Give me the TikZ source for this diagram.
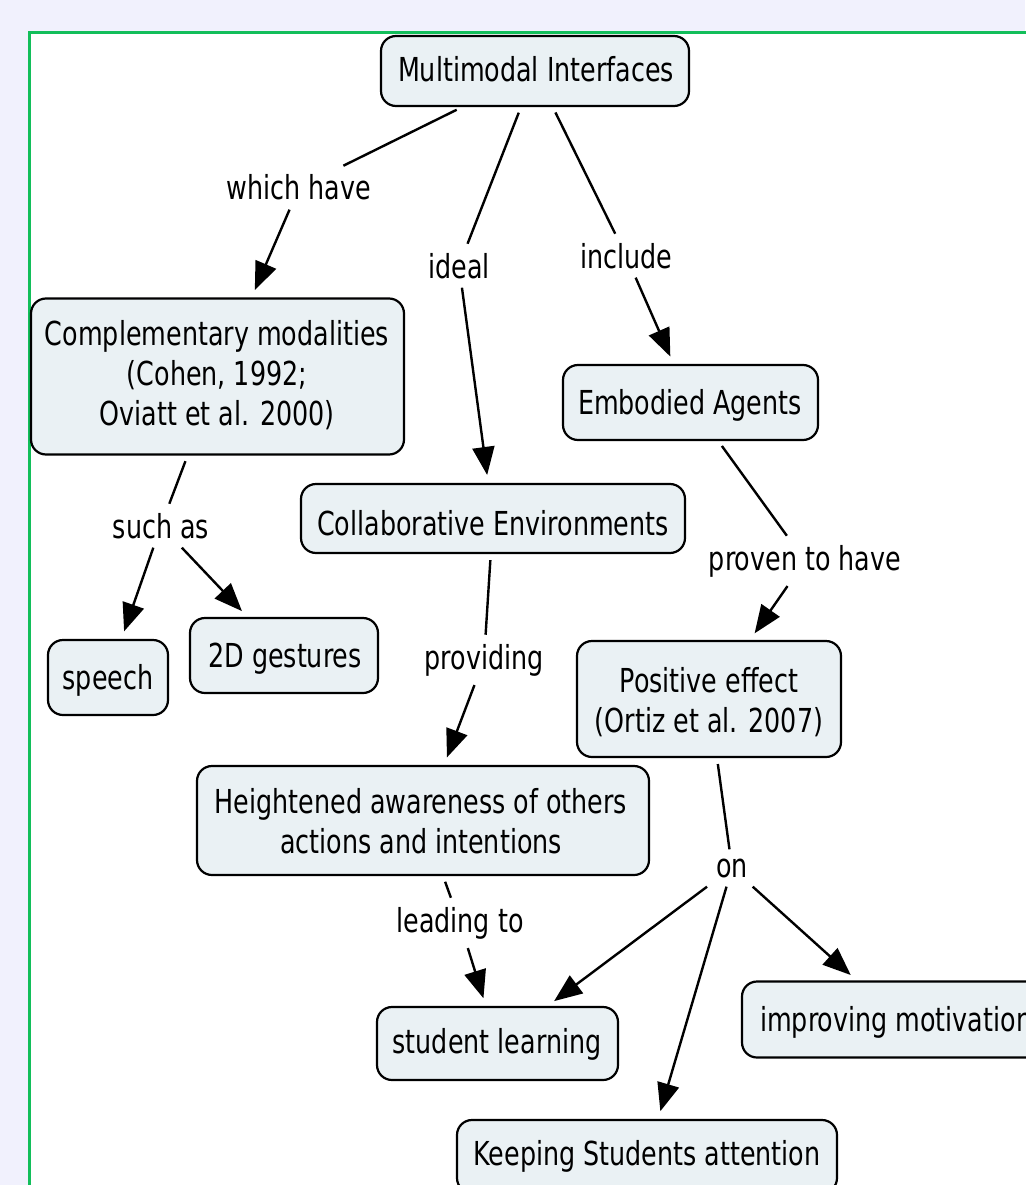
\documentclass[tikz,border=0pt]{standalone}
\usepackage{fontspec}
\setmainfont{DejaVu Sans Condensed}[FakeStretch=0.855]
\usetikzlibrary{arrows.meta}
\definecolor{bgcol}{RGB}{241,241,253}
\definecolor{framecol}{RGB}{18,190,90}
\definecolor{boxfill}{RGB}{234,241,244}
\tikzset{
  concept/.style={draw=black, line width=2.2pt, fill=boxfill, rounded corners=15pt, inner sep=0pt},
  txt/.style={inner sep=0pt, font=\fontsize{33}{40}\selectfont, align=center},
  lbl/.style={inner sep=9pt, font=\fontsize{33}{40}\selectfont},
  link/.style={line width=2.4pt, shorten <=6pt},
  arr/.style={line width=2.4pt, shorten >=8pt, -{Triangle[length=28pt,width=22pt]}},
}
\begin{document}
\begin{tikzpicture}[x=1pt,y=-1pt]
\fill[bgcol] (0,0) rectangle (1025,1185);
\useasboundingbox (0,0) rectangle (1025,1185);
\fill[white] (29,33) rectangle (1030,1190);
\draw[framecol, line width=3pt] (29,1190) -- (29,33) -- (1030,33);

% concept boxes
\node[concept, minimum width=308pt, minimum height=70pt] (mi) at (535,71) {};
\node[concept, minimum width=373pt, minimum height=156pt] (cm) at (217.5,376.5) {};
\node[concept, minimum width=255pt, minimum height=75pt] (ea) at (690.5,402.5) {};
\node[concept, minimum width=384pt, minimum height=69pt] (ce) at (493,518.5) {};
\node[concept, minimum width=120pt, minimum height=75pt] (sp) at (108,677.5) {};
\node[concept, minimum width=188pt, minimum height=75pt] (gs) at (284,655.5) {};
\node[concept, minimum width=264pt, minimum height=116pt] (pe) at (709,699) {};
\node[concept, minimum width=452pt, minimum height=109pt] (ha) at (423,820.5) {};
\node[concept, minimum width=241pt, minimum height=73pt] (sl) at (497.5,1043.5) {};
\node[concept, minimum width=316pt, minimum height=76pt] (im) at (900,1019.5) {};
\node[concept, minimum width=380pt, minimum height=73pt] (ks) at (647,1156.5) {};

% concept texts
\node[txt, anchor=base] (mit) at (536,82) {Multimodal Interfaces};
\node[txt, anchor=north] (cmt) at (217,320) {Complementary modalities\\(Cohen, 1992;\\Oviatt et al. 2000)};
\node[txt, anchor=base] (eat) at (690,414) {Embodied Agents};
\node[txt, anchor=base] (cet) at (493,535) {Collaborative Environments};
\node[txt, anchor=base] (spt) at (108,689) {speech};
\node[txt, anchor=base] (gst) at (285,667) {2D gestures};
\node[txt, anchor=north] (pet) at (709,667) {Positive effect\\(Ortiz et al. 2007)};
\node[txt, anchor=north] (hat) at (421,788) {Heightened awareness of others\\actions and intentions};
\node[txt, anchor=base] (slt) at (497,1053) {student learning};
\node[txt, anchor=base west] (imt) at (760,1031) {improving motivation};
\node[txt, anchor=base] (kst) at (647,1165) {Keeping Students attention};

% linking phrases
\node[lbl, anchor=base] (lwh) at (299,200) {which have};
\node[lbl, anchor=base] (lid) at (459,278) {ideal};
\node[lbl, anchor=base] (lin) at (626,268) {include};
\node[lbl, anchor=base] (lsa) at (161,538) {such as};
\node[lbl, anchor=base] (lpr) at (805,570) {proven to have};
\node[lbl, anchor=base] (lpv) at (484,669) {providing};
\node[lbl, anchor=base] (llt) at (460,932) {leading to};
\node[lbl, anchor=base] (lon) at (732,877) {on};

% connectors
\draw[link] (mi) -- (lwh);
\draw[arr] (lwh) -- (cm);
\draw[link] (mi) -- (lid);
\draw[arr] (lid) -- (ce);
\draw[link] (mi) -- (lin);
\draw[arr] (lin) -- (ea);
\draw[link] (cm) -- (lsa);
\draw[arr] (lsa) -- (sp);
\draw[arr] (lsa) -- (gs);
\draw[link] (ea) -- (lpr);
\draw[arr] (lpr) -- (pe);
\draw[link] (ce) -- (lpv);
\draw[arr] (lpv) -- (ha);
\draw[link] (pe) -- (lon);
\draw[arr] (lon) -- (sl);
\draw[arr] (lon) -- (im);
\draw[arr] (lon) -- (ks);
\draw[link] (ha) -- (llt);
\draw[arr] (llt) -- (sl);
\end{tikzpicture}
\end{document}
